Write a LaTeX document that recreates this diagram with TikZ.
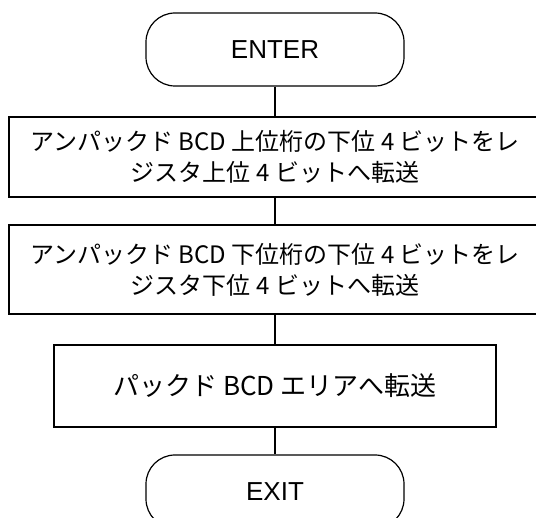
\documentclass[tikz,border=0pt]{standalone}
\usepackage{fontspec}
\setmainfont{Liberation Sans}
\newfontfamily\jpfont{Noto Sans CJK JP}

\begin{document}
\begin{tikzpicture}[x=1pt,y=-1pt,line width=1.2pt]
\tikzset{terminal/.style={draw,rounded corners=29pt,minimum width=258pt,minimum height=73pt,inner sep=0pt,font=\fontsize{26}{30}\selectfont}}
\tikzset{process/.style={draw,inner sep=0pt,align=center,font=\jpfont\fontsize{24}{31}\selectfont}}
\useasboundingbox (0,0) rectangle (536,518);
% terminals and steps
\node [terminal] (enter) at (275,49.5) {ENTER};
\node [process,minimum width=532pt,minimum height=80pt] (upper) at (275,157) {アンパックド BCD 上位桁の下位 4 ビットをレ\\ジスタ上位 4 ビットへ転送};
\node [process,minimum width=532pt,minimum height=89pt] (lower) at (275,269.5) {アンパックド BCD 下位桁の下位 4 ビットをレ\\ジスタ下位 4 ビットへ転送};
\node [process,minimum width=442pt,minimum height=82pt,font=\jpfont\fontsize{26}{31}\selectfont] (pack) at (275,386) {パックド BCD エリアへ転送};
\node [terminal] (exit) at (275,491.5) {EXIT};
% flow lines
\draw (enter) -- (upper);
\draw (upper) -- (lower);
\draw (lower) -- (pack);
\draw (pack) -- (exit);
\end{tikzpicture}
\end{document}
